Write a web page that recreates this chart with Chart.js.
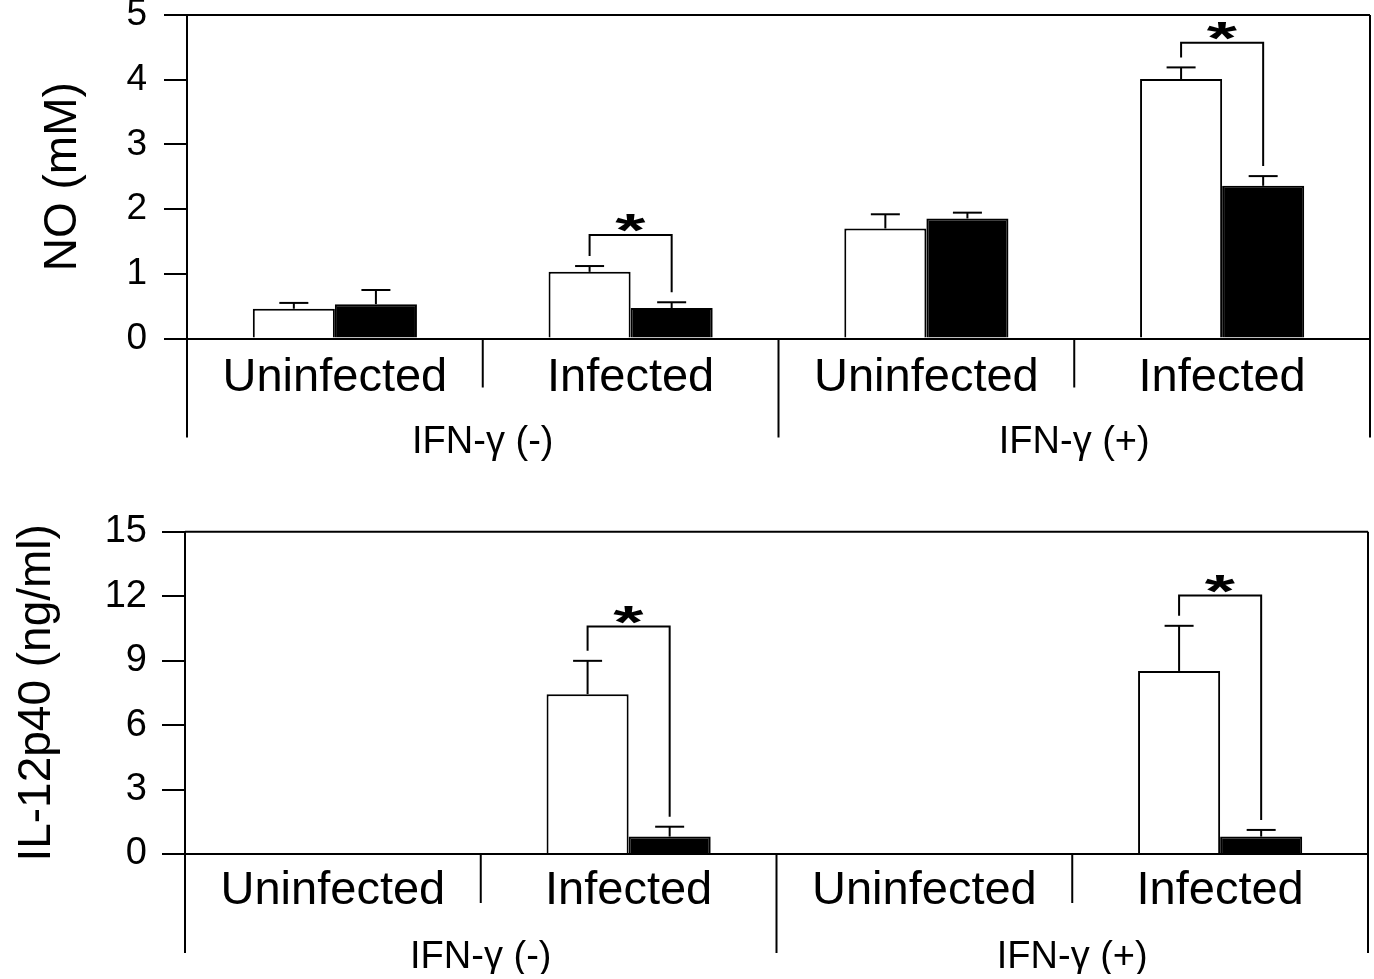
<!DOCTYPE html>
<html>
<head>
<meta charset="utf-8">
<script src="https://cdn.jsdelivr.net/npm/chart.js@4.4.0/dist/chart.umd.min.js"></script>
<style>
  body { margin: 0; background: #fff; }
  #wrap { position: relative; width: 1374px; height: 979px; }
  .box { position: absolute; left: 0; width: 1374px; }
</style>
</head>
<body>
<div id="wrap">
  <div class="box" style="top:0;height:480px"><canvas id="noChart"></canvas></div>
  <div class="box" style="top:480px;height:499px"><canvas id="ilChart"></canvas></div>
</div>
<script>
const categories = ['Uninfected', 'Infected', 'Uninfected', 'Infected'];
const groupLabels = ['IFN-γ (-)', 'IFN-γ (+)'];

// NO (mM) - white = open bars, black = filled bars
const noWhite = [0.46, 1.03, 1.70, 4.01];
const noWhiteErr = [0.09, 0.09, 0.22, 0.18];
const noBlack = [0.53, 0.47, 1.855, 2.36];
const noBlackErr = [0.22, 0.09, 0.09, 0.15];
const noBracket = [null, 1.60, null, 4.57];
const noTicks = [0, 1, 2, 3, 4, 5];

// IL-12p40 (ng/ml)
const ilWhite = [0, 7.44, 0, 8.52];
const ilWhiteErr = [null, 1.55, null, 2.10];
const ilBlack = [0, 0.81, 0, 0.81];
const ilBlackErr = [null, 0.46, null, 0.31];
const ilBracket = [null, 10.59, null, 12.03];
const ilTicks = [0, 3, 6, 9, 12, 15];

const FONT = "'Liberation Sans', Arial, Helvetica, sans-serif";
const INK = '#000';

// draws a wide, flat asterisk centred on (cx, cy)
function drawStar(ctx, cx, cy, w, h) {
  ctx.save();
  ctx.fillStyle = INK;
  ctx.font = 'bold 60px ' + FONT;
  ctx.textAlign = 'left';
  ctx.textBaseline = 'alphabetic';
  const m = ctx.measureText('*');
  const gw = m.actualBoundingBoxLeft + m.actualBoundingBoxRight;
  const gh = m.actualBoundingBoxAscent + m.actualBoundingBoxDescent;
  ctx.translate(cx, cy);
  ctx.scale(w / gw, h / gh);
  ctx.fillText('*', -gw / 2 + m.actualBoundingBoxLeft, gh / 2 - m.actualBoundingBoxDescent);
  ctx.restore();
}

// error bars, brackets, frame and divider lines
const extras = {
  id: 'extras',
  afterDatasetsDraw(chart, args, opts) {
    const ctx = chart.ctx;
    const a = chart.chartArea;
    const x = chart.scales.x, y = chart.scales.y;
    ctx.save();
    ctx.strokeStyle = INK;
    ctx.lineWidth = 2;
    const line = (x1, y1, x2, y2) => {
      ctx.beginPath(); ctx.moveTo(x1, y1); ctx.lineTo(x2, y2); ctx.stroke();
    };

    // error bars (upper only)
    const tops = [[], []];
    chart.data.datasets.forEach((ds, di) => {
      const meta = chart.getDatasetMeta(di);
      meta.data.forEach((bar, i) => {
        const e = ds.errors[i];
        if (e == null) return;
        const yt = y.getPixelForValue(ds.data[i] + e);
        line(bar.x, bar.y, bar.x, yt);
        line(bar.x - 14.5, yt, bar.x + 14.5, yt);
        tops[di][i] = { x: bar.x, y: yt };
      });
    });

    // significance brackets
    opts.brackets.forEach((b, i) => {
      if (b == null) return;
      const l = tops[0][i], r = tops[1][i];
      const yb = y.getPixelForValue(b);
      ctx.beginPath();
      ctx.moveTo(l.x, l.y - opts.gap);
      ctx.lineTo(l.x, yb);
      ctx.lineTo(r.x, yb);
      ctx.lineTo(r.x, r.y - opts.gap);
      ctx.stroke();
      drawStar(ctx, (l.x + r.x) / 2, yb - opts.starGap, 31, 18);
    });

    // frame: top line, right side, left extension
    const low = a.bottom + opts.longTick;
    line(a.left, a.top, a.right, a.top);
    line(a.right, a.top, a.right, low);
    line(a.left, a.bottom, a.left, low);

    // dividers between categories
    for (let i = 0; i < categories.length - 1; i++) {
      const xm = (x.getPixelForValue(i) + x.getPixelForValue(i + 1)) / 2;
      line(xm, a.bottom, xm, a.bottom + (i === 1 ? opts.longTick : opts.shortTick));
    }
    ctx.restore();
  }
};

function makeChart(id, cfg) {
  const datasets = [
    { data: cfg.white, errors: cfg.whiteErr, backgroundColor: '#fff', borderColor: INK, borderWidth: 2 },
    { data: cfg.black, errors: cfg.blackErr, backgroundColor: '#000', borderColor: INK, borderWidth: 2 }
  ];
  return new Chart(document.getElementById(id), {
    type: 'bar',
    data: { labels: categories, datasets: datasets },
    plugins: [extras],
    options: {
      responsive: true,
      maintainAspectRatio: false,
      animation: false,
      events: [],
      layout: { padding: cfg.padding },
      datasets: { bar: { categoryPercentage: 0.555, barPercentage: 1.0 } },
      plugins: {
        legend: { display: false },
        tooltip: { enabled: false },
        extras: { brackets: cfg.brackets, gap: 10, starGap: 12, shortTick: 49, longTick: 99 }
      },
      scales: {
        x: {
          type: 'category',
          offset: true,
          grid: { display: false, drawTicks: false },
          border: { display: true, color: INK, width: 2 },
          ticks: { color: INK, font: { family: FONT, size: 47 }, padding: cfg.xPad, maxRotation: 0, autoSkip: false },
          afterFit(s) { s.height = 60; s.paddingLeft = 0; s.paddingRight = 0; }
        },
        x2: {
          type: 'category',
          labels: groupLabels,
          position: 'bottom',
          offset: true,
          grid: { display: false, drawTicks: false },
          border: { display: false },
          ticks: { color: INK, font: { family: FONT, size: 38 }, padding: cfg.x2Pad, maxRotation: 0 },
          afterFit(s) { s.height = cfg.x2Height; s.paddingLeft = 0; s.paddingRight = 0; }
        },
        y: {
          min: cfg.ticks[0],
          max: cfg.ticks[cfg.ticks.length - 1],
          afterBuildTicks(s) { s.ticks = cfg.ticks.map(v => ({ value: v })); },
          grid: { display: true, drawOnChartArea: false, drawTicks: true, tickLength: 23, color: INK, lineWidth: 2 },
          border: { display: true, color: INK, width: 2 },
          ticks: { color: INK, font: { family: FONT, size: cfg.tickSize }, padding: cfg.yPad },
          title: { display: true, text: cfg.title, color: INK, font: { family: FONT, size: 46 }, padding: { top: cfg.titlePad, bottom: 0 } },
          afterFit(s) { s.width = cfg.axisLeft; s.paddingTop = 0; s.paddingBottom = 0; }
        }
      }
    }
  });
}

makeChart('noChart', {
  white: noWhite, whiteErr: noWhiteErr, black: noBlack, blackErr: noBlackErr,
  brackets: noBracket, ticks: noTicks, title: 'NO (mM)',
  padding: { top: 15, right: 4, left: 0, bottom: 11.5 },
  axisLeft: 187, tickSize: 37, yPad: 17, titlePad: 36,
  xPad: 11, x2Pad: 21.5, x2Height: 70
});

makeChart('ilChart', {
  white: ilWhite, whiteErr: ilWhiteErr, black: ilBlack, blackErr: ilBlackErr,
  brackets: ilBracket, ticks: ilTicks, title: 'IL-12p40 (ng/ml)',
  padding: { top: 51.7, right: 6, left: 0, bottom: 5 },
  axisLeft: 185, tickSize: 38, yPad: 15, titlePad: 10,
  xPad: 9, x2Pad: 20.5, x2Height: 60
});
</script>
</body>
</html>
